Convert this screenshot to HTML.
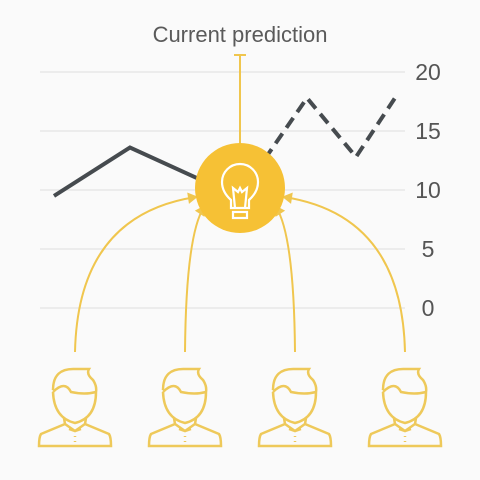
<!DOCTYPE html>
<html><head><meta charset="utf-8"><style>
html,body{margin:0;padding:0;background:#fafafa;}
svg{display:block;font-family:"Liberation Sans",sans-serif;}
</style></head><body>
<svg id="chart" width="480" height="480" viewBox="0 0 480 480">
<text x="240" y="42" text-anchor="middle" font-size="22" fill="#5a5a5a">Current prediction</text>
<g id="grid"></g>
<g id="lines"></g>
<g id="arrows" stroke="#f0c64e" stroke-width="2" fill="none"></g>
<g>
<line x1="240" y1="55" x2="240" y2="145" stroke="#f0c64e" stroke-width="2"/>
<line x1="234" y1="55" x2="246" y2="55" stroke="#f0c64e" stroke-width="2"/>
<circle cx="240" cy="188" r="45" fill="#f6c135"/>
<g fill="none" stroke="#fff" stroke-width="2.2">
<path d="M231,208 L231,200 Q222,192 222,182 A18,18 0 1 1 258,182 Q258,192 249,200 L249,208 Z"/>
<path d="M235,208 L233,188 L238,192 L240,188 L242,192 L247,188 L245,208"/>
<rect x="233" y="212" width="14" height="6"/>
</g></g>
<g id="people"></g>
</svg>
<script>
const yTicks=[20,15,10,5,0];
const solidT=[0,3.8,8.2];
const solidV=[9.5,13.6,10.2];
const dashT=[10,12.65,15.1,17.05];
const dashV=[11.3,17.8,12.8,17.8];
const peopleX=[75,185,295,405];
const NS="http://www.w3.org/2000/svg";
const y=v=>308-v*11.8;
const x=t=>54+t*20;
const g=document.getElementById('grid');
yTicks.forEach(v=>{
 const l=document.createElementNS(NS,'line');
 l.setAttribute('x1',40);l.setAttribute('x2',405);l.setAttribute('y1',y(v));l.setAttribute('y2',y(v));
 l.setAttribute('stroke','#e8e8e8');l.setAttribute('stroke-width','1.5');
 
 
 g.appendChild(l);
 const t=document.createElementNS(NS,'text');
 t.setAttribute('x',428);t.setAttribute('y',y(v)+8);t.setAttribute('text-anchor','middle');
 t.setAttribute('font-size','23');t.setAttribute('fill','#555');t.textContent=v;
 
 
 g.appendChild(t);
});
const L=document.getElementById('lines');
function poly(ts,vs,dash,name){
 const p=document.createElementNS(NS,'polyline');
 p.setAttribute('points',ts.map((t,i)=>x(t)+','+y(vs[i])).join(' '));
 p.setAttribute('fill','none');p.setAttribute('stroke','#464b4f');p.setAttribute('stroke-width','4');
 if(dash)p.setAttribute('stroke-dasharray','12,7');
 
 
 L.appendChild(p);
}
poly(solidT,solidV,false,'history-line');
poly(dashT,dashV,true,'forecast-line');
const A=document.getElementById('arrows');
const ends=[[196,197],[204,207],[276,207],[284,197]];
const ctrl=[[78,215],[186,235],[294,235],[402,215]];
peopleX.forEach((px,i)=>{
 const [ex,ey]=ends[i];
 const [cx,cy]=ctrl[i];
 const p=document.createElementNS(NS,'path');
 p.setAttribute('d',`M${px},352 Q${cx},${cy} ${ex},${ey}`);
 
 
 A.appendChild(p);
 const h=document.createElementNS(NS,'path');
 const dx=ex-cx,dy=ey-cy,len=Math.hypot(dx,dy),ux=dx/len,uy=dy/len;
 h.setAttribute('d',`M${ex},${ey} L${ex-ux*7-uy*4},${ey-uy*7+ux*4} L${ex-ux*7+uy*4},${ey-uy*7-ux*4}Z`);
 h.setAttribute('fill','#f0c64e');
 
 
 A.appendChild(h);
});
const P=document.getElementById('people');
peopleX.forEach(px=>{
 const gp=document.createElementNS(NS,'g');
 gp.setAttribute('transform',`translate(${px},0)`);
 gp.setAttribute('fill','none');gp.setAttribute('stroke','#eec95a');gp.setAttribute('stroke-width','2.5');
 gp.innerHTML=`<path d="M-22,390 Q-22,368 0,369 L14,369 Q11,374 18,380 Q22,386 21,392 Q21,418 0,423 Q-21,418 -22,392"/>
<path d="M-22,392 Q-10,380 -4,392 Q10,395 21,392"/>
<path d="M-11,418 L-10,424 L-34,434 Q-36,437 -36,446 L36,446 Q36,437 34,434 L10,424 L11,418"/>
<path d="M-10,424 L0,431 L10,424 M-6,429 L0,431 L6,429"/>
<line x1="0" y1="436" x2="0" y2="437"/><line x1="0" y1="441" x2="0" y2="442"/>`;
 
 
 P.appendChild(gp);
});
</script>
</body></html>
